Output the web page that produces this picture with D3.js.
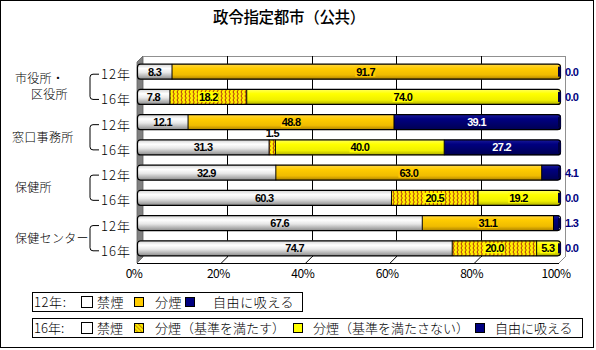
<!DOCTYPE html>
<html><head><meta charset="utf-8">
<script src="https://cdn.jsdelivr.net/npm/d3@7"></script>
<style>
body{margin:0;background:#fff;}
svg{display:block;}
text{font-family:"Noto Sans CJK JP","Noto Sans",sans-serif;}
.num{font-family:"Liberation Sans",Arial,sans-serif;font-weight:bold;}
</style></head>
<body><svg id="c" width="596" height="350"></svg>
<script>
const title = "政令指定都市（公共）";
const categories = ["市役所・区役所","窓口事務所","保健所","保健センター"];
const categoryLines = [["市役所・","区役所"],["窓口事務所"],["保健所"],["保健センター"]];
const years = ["12年","16年"];
const tickValues = [0,20,40,60,80,100];
const kinen12 = [8.3,12.1,32.9,67.6];
const bunen12 = [91.7,48.8,63.0,31.1];
const jiyu12  = [0.0,39.1,4.1,1.3];
const kinen16 = [7.8,31.3,60.3,74.7];
const bunenOk16 = [18.2,1.5,20.5,20.0];
const bunenNg16 = [74.0,40.0,19.2,5.3];
const jiyu16  = [0.0,27.2,0.0,0.0];
const legend12 = ["12年:","禁煙","分煙","自由に吸える"];
const legend16 = ["16年:","禁煙","分煙（基準を満たす）","分煙（基準を満たさない）","自由に吸える"];

const svg = d3.select("#c");
const defs = svg.append("defs");
function grad(id, stops){
  const g = defs.append("linearGradient").attr("id",id).attr("x1",0).attr("y1",0).attr("x2",0).attr("y2",1);
  stops.forEach(s=>g.append("stop").attr("offset",s[0]).attr("stop-color",s[1]));
}
grad("gGray",[[0,"#cfcfcf"],[0.3,"#ffffff"],[0.55,"#e8e8e8"],[1,"#858585"]]);
grad("gGold",[[0,"#ffd84a"],[0.3,"#ffcc00"],[0.7,"#f0bc00"],[1,"#a67c00"]]);
grad("gYel",[[0,"#ffff66"],[0.3,"#ffff00"],[0.7,"#f0f000"],[1,"#a8a800"]]);
grad("gNavy",[[0,"#1c1c9c"],[0.3,"#000080"],[1,"#000050"]]);
const pat = defs.append("pattern").attr("id","pHatch").attr("patternUnits","userSpaceOnUse").attr("width",4).attr("height",4);
pat.append("rect").attr("width",4).attr("height",4).attr("fill","#ffee00");
pat.append("path").attr("d","M1,0 Q3.5,2 1,4").attr("fill","none").attr("stroke","#b02a10").attr("stroke-width",1);
const pat2 = defs.append("pattern").attr("id","pDiag").attr("patternUnits","userSpaceOnUse").attr("width",3).attr("height",3).attr("patternTransform","rotate(-45)");
pat2.append("rect").attr("width",3).attr("height",3).attr("fill","#ffff00");
pat2.append("rect").attr("width",1.4).attr("height",3).attr("fill","#d09000");

const fills = {kin:"url(#gGray)", bun:"url(#gGold)", ok:"url(#pHatch)", ng:"url(#gYel)", jiyu:"url(#gNavy)"};
const labelBg = {bun:"#ffcc00", ok:"#ffff00", ng:"#ffff00"};

// outer frame
svg.append("rect").attr("x",0.5).attr("y",0.5).attr("width",593).attr("height",347).attr("fill","#fff").attr("stroke","#000");

// title
svg.append("text").attr("x",289).attr("y",23).attr("text-anchor","middle").attr("font-size",15.5).attr("font-weight",500).attr("letter-spacing",-0.3).text(title);

// rows
const rows = [];
categories.forEach((c,i)=>{
  rows.push({cat:i, year:0, segs:[["kin",kinen12[i]],["bun",bunen12[i]],["jiyu",jiyu12[i]]]});
  rows.push({cat:i, year:1, segs:[["kin",kinen16[i]],["ok",bunenOk16[i]],["ng",bunenNg16[i]],["jiyu",jiyu16[i]]]});
});
rows.forEach(r=>{
  const ends = d3.cumsum(r.segs.map(s=>s[1]));
  r.segs = r.segs.map((s,k)=>({key:s[0], v:s[1], x0:ends[k]-s[1], x1:ends[k]}));
});

const x = d3.scaleLinear().domain([0,100]).range([137,559]);
const y = d3.scalePoint().domain(d3.range(rows.length)).range([71.7,248.3]);
const dx = 6, dy = -6;
const topY = 56, floorY = 263;
const barH = 16;

// back wall / left wall / floor
const g3 = svg.append("g");
g3.append("polygon").attr("points",[[x(0),floorY],[x(0)+dx,floorY+dy],[x(100)+dx,floorY+dy],[x(100),floorY]].join(" ")).attr("fill","#fff");
g3.append("polygon").attr("points",[[x(0),topY-dy],[x(0)+dx,topY],[x(0)+dx,floorY+dy],[x(0),floorY]].join(" ")).attr("fill","#808080").attr("stroke","#606060").attr("stroke-width",0.8);
g3.append("line").attr("x1",x(0)+dx).attr("x2",x(100)+dx).attr("y1",topY+0.5).attr("y2",topY+0.5).attr("stroke","#909090");
g3.append("line").attr("x1",x(100)+dx+0.5).attr("x2",x(100)+dx+0.5).attr("y1",topY).attr("y2",floorY+dy).attr("stroke","#909090");
g3.append("line").attr("x1",x(100)+dx).attr("x2",x(100)).attr("y1",floorY+dy).attr("y2",floorY).attr("stroke","#909090");
tickValues.filter(t=>t>0&&t<100).forEach(t=>{
  g3.append("line").attr("x1",Math.round(x(t)+dx)+0.5).attr("x2",Math.round(x(t)+dx)+0.5).attr("y1",topY).attr("y2",floorY+dy).attr("stroke","#000");
  g3.append("line").attr("x1",x(t)+dx).attr("x2",x(t)).attr("y1",floorY+dy).attr("y2",floorY).attr("stroke","#000");
});
g3.append("line").attr("x1",x(0)).attr("x2",x(100)).attr("y1",floorY+0.5).attr("y2",floorY+0.5).attr("stroke","#000");

// x axis labels
svg.append("g").selectAll("text").data(tickValues).join("text")
  .attr("x",d=>x(d)-3).attr("y",278).attr("text-anchor","middle")
  .attr("font-family","'Liberation Sans',Arial,sans-serif").attr("font-size",12).attr("letter-spacing",-0.5)
  .text(d=>d+"%");

// bars
const bars = svg.append("g");
rows.forEach((r,ri)=>{
  const cy = y(ri), top = cy - barH/2;
  const cid = "clip"+ri;
  defs.append("clipPath").attr("id",cid).append("rect")
    .attr("x",x(0)).attr("y",top).attr("width",x(100)-x(0)+2).attr("height",barH).attr("rx",3);
  const gb = bars.append("g");
  const gc = gb.append("g").attr("clip-path",`url(#${cid})`);
  gc.selectAll("rect").data(r.segs.filter(s=>s.v>0)).join("rect")
    .attr("x",s=>x(s.x0)).attr("y",top).attr("width",s=>x(s.x1)-x(s.x0)+(s.x1>=100?2:0)).attr("height",barH)
    .attr("fill",s=>fills[s.key]);
  gc.selectAll("line").data(r.segs.filter(s=>s.x0>0 && s.v>0)).join("line")
    .attr("x1",s=>x(s.x0)).attr("x2",s=>x(s.x0)).attr("y1",top).attr("y2",top+barH)
    .attr("stroke","#000").attr("stroke-width",1);
  gb.append("rect").attr("x",x(0)+0.5).attr("y",top+0.5).attr("width",x(100)-x(0)+1).attr("height",barH-1).attr("rx",3)
    .attr("fill","none").attr("stroke","#000").attr("stroke-width",1.2);
  gb.append("rect").attr("x",x(100)-1).attr("y",top+3).attr("width",3).attr("height",barH-6).attr("fill","#000040");

  r.segs.forEach(s=>{
    let lx, ly, anchor="middle", color="#000", bg=null;
    if(s.key==="jiyu" && s.v<5){ lx = x(100)+6; ly = cy+4; anchor="start"; color="#000080"; }
    else if(s.v===0){ return; }
    else if(s.v<3){ lx=(x(s.x0)+x(s.x1))/2; ly = top-2; }
    else { lx=(x(s.x0)+x(s.x1))/2; ly=cy+4; if(s.key==="jiyu") color="#fff"; bg=labelBg[s.key]||null; }
    const t = gb.append("text").attr("class","num").attr("x",lx).attr("y",ly).attr("text-anchor",anchor)
      .attr("font-size",11).attr("letter-spacing",-0.7).attr("fill",color).text(s.v.toFixed(1));
    if(bg){
      const bb = t.node().getBBox();
      gb.insert("rect","text").attr("x",bb.x-1).attr("y",bb.y+1).attr("width",bb.width+1).attr("height",bb.height-2).attr("fill",bg);
    }
  });
});

// year labels and brackets
const lab = svg.append("g");
rows.forEach((r,ri)=>{
  lab.append("text").attr("x",131).attr("y",y(ri)+2.5+5).attr("text-anchor","end")
    .attr("font-size",13).attr("font-weight",300).attr("letter-spacing",1).text(years[r.year]);
});
categories.forEach((c,i)=>{
  const y1 = y(2*i)+2.5, y2 = y(2*i+1)+2.5;
  lab.append("path").attr("d",`M99,${y1} H93 Q90,${y1} 90,${y1+3} V${y2-3} Q90,${y2} 93,${y2} H99`)
    .attr("fill","none").attr("stroke","#000").attr("stroke-width",1);
  const lines = categoryLines[i];
  const cy = (y1+y2)/2;
  const xs = i===0 ? [15,31] : (i===1 ? [12] : [15]);
  lines.forEach((ln,k)=>{
    lab.append("text").attr("x",xs[k]).attr("y",cy+4.5+(k-(lines.length-1)/2)*16)
      .attr("font-size",12).attr("font-weight",300).attr("letter-spacing",0.3).text(ln);
  });
});

// legends
function sq(g,xx,yy,fill,size){ g.append("rect").attr("x",xx+0.5).attr("y",yy+0.5).attr("width",size).attr("height",size).attr("fill",fill).attr("stroke","#000"); }
const lg = svg.append("g");
lg.append("rect").attr("x",32.5).attr("y",292.5).attr("width",270).attr("height",19).attr("fill","#fff").attr("stroke","#000");
lg.append("rect").attr("x",32.5).attr("y",318.5).attr("width",550).attr("height",19).attr("fill","#fff").attr("stroke","#000");
const ly1 = 307, ly2 = 333;
const pos12 = [34,97,155,213];
legend12.forEach((t,k)=>lg.append("text").attr("x",pos12[k]).attr("y",ly1).attr("font-size",13).attr("font-weight",300).attr("letter-spacing",0.6).text(t));
sq(lg,81,296,"#fff",11); sq(lg,134,297,"#ffcc00",9); sq(lg,185,297,"#000080",9);
const pos16 = [34,97,155,313,495];
legend16.forEach((t,k)=>lg.append("text").attr("x",pos16[k]).attr("y",ly2).attr("font-size",13).attr("font-weight",300).attr("letter-spacing",0).text(t));
sq(lg,81,322,"#fff",11); sq(lg,134,323,"url(#pDiag)",9); sq(lg,293,323,"#ffff00",9); sq(lg,475,323,"#000080",9);
</script></body></html>
